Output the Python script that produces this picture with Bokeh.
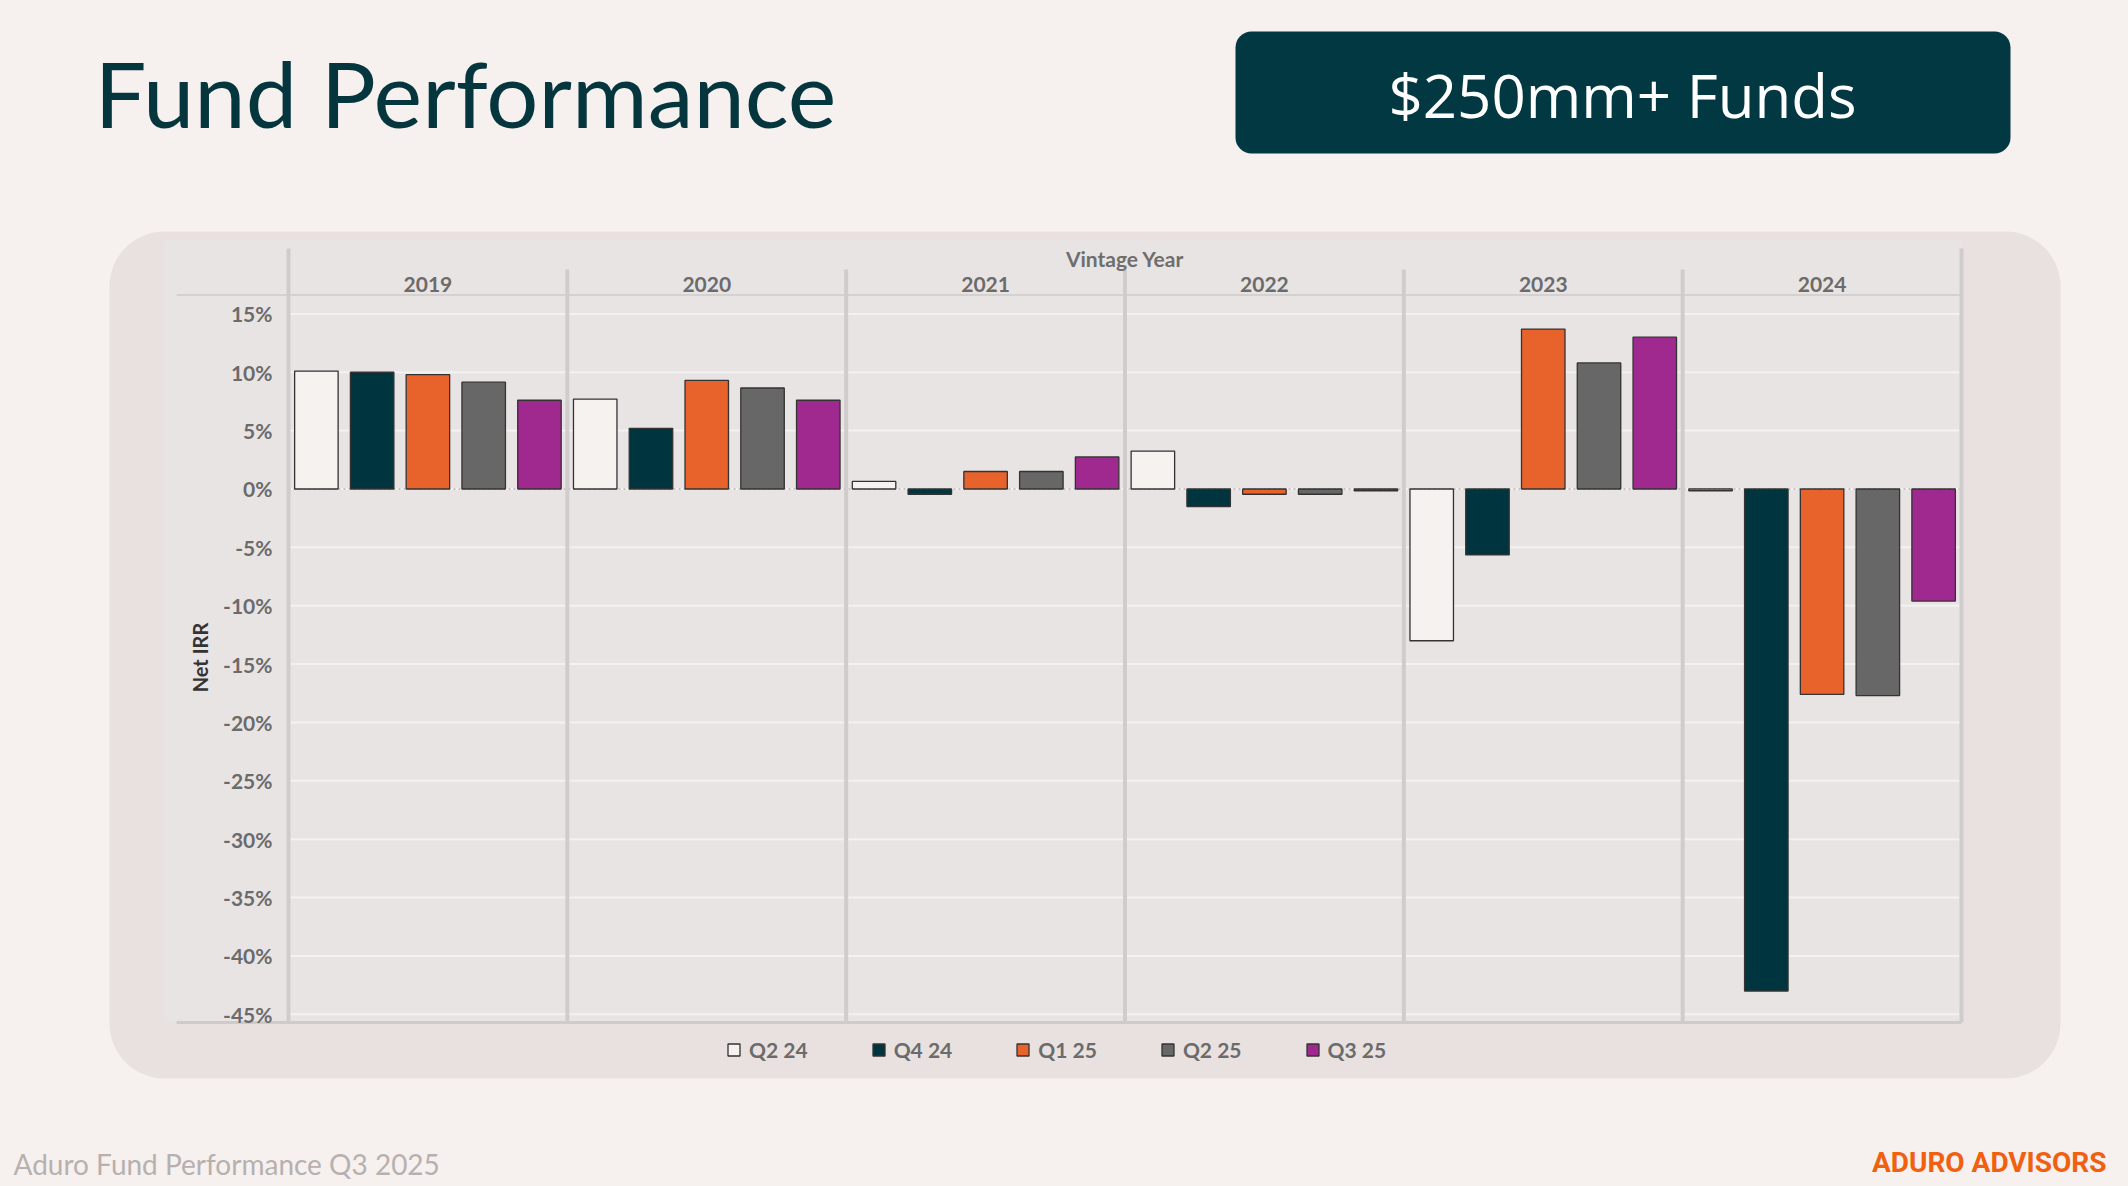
import math
from bokeh.plotting import figure
from bokeh.models import (Range1d, FixedTicker, PrintfTickFormatter,
                          BoxAnnotation, Label)
from bokeh.core.properties import value
from bokeh.embed import file_html
from bokeh.resources import INLINE

# ---------------- data ----------------
years = ["2019", "2020", "2021", "2022", "2023", "2024"]
quarters = ["Q2 24", "Q4 24", "Q1 25", "Q2 25", "Q3 25"]
q2_24 = [10.1, 7.7, 0.65, 3.25, -13.0, -0.15]
q4_24 = [10.0, 5.2, -0.45, -1.5, -5.65, -43.0]
q1_25 = [9.8, 9.3, 1.5, -0.45, 13.7, -17.6]
q2_25 = [9.15, 8.65, 1.5, -0.45, 10.8, -17.7]
q3_25 = [7.6, 7.6, 2.75, -0.15, 13.0, -9.6]
series = [q2_24, q4_24, q1_25, q2_25, q3_25]
y_ticks = [-45, -40, -35, -30, -25, -20, -15, -10, -5, 0, 5, 10, 15]
colors = ["#f5f2f0", "#00353f", "#e8632b", "#676767", "#a0298f"]

# ---------------- geometry (page pixels) ----------------
W, H = 2124, 1182
OFF = 0
FL, FR, FT, FB = 288, 1961, 248, 1022      # chart plot area
Y_TOP, Y_BOT = 20.6, -45.7                 # value range of that area
PAGE = "#f6f0ef"
PANEL = "#e8e1e0"
FRAME = "#e9e4e4"
GRID = "#f4f1f1"
SEP = "#cfcccc"

n_q = len(quarters)
n_y = len(years)
n_slots = n_q * n_y
slot = (FR - FL) / n_slots
py = (FB - FT) / (Y_TOP - Y_BOT)


def xdata(X):
    return (X - FL) / slot


def ydata(Y):
    return Y_TOP - (Y - FT) / py


def cx(X):
    return X - OFF


def cy(Y):
    return Y - OFF


def cbox(X0, X1, Y0, Y1, color, level="image", radius=0):
    return BoxAnnotation(left=cx(X0), right=cx(X1), top=cy(Y0), bottom=cy(Y1),
                         left_units="canvas", right_units="canvas",
                         top_units="canvas", bottom_units="canvas",
                         fill_color=color, fill_alpha=1, line_color=None,
                         border_radius=radius, level=level)


def clabel(X, Y, text, font, size, color, align="left", style="normal",
           angle=0.0):
    return Label(x=cx(X), y=cy(Y), x_units="canvas", y_units="canvas",
                 text=text, text_font=font, text_font_size=size,
                 text_font_style=style, text_color=color, text_align=align,
                 text_baseline="middle", angle=angle)


p = figure(width=W, height=H, output_backend="svg", toolbar_location=None,
           x_range=Range1d(xdata(OFF), xdata(OFF + W)),
           y_range=Range1d(ydata(OFF + H), ydata(OFF)),
           x_axis_location=None, y_axis_location="left",
           min_border=0)
p.min_border_left = 0
p.min_border_right = 0
p.min_border_top = 0
p.min_border_bottom = 0
p.outline_line_color = None
p.background_fill_color = PAGE
p.border_fill_color = PAGE
p.xgrid.visible = False
p.ygrid.visible = False

# rounded panel and plot-area tone
p.add_layout(cbox(109, 2060, 231, 1078, PANEL, radius=55))
p.add_layout(cbox(163, FR, 240, FB, FRAME))
# header badge
p.add_layout(cbox(1235, 2010, 31, 153, "#023841", radius=16))
# header / bottom rules
p.add_layout(cbox(176, FR, 293.5, 295.5, "#d5d1d1"))
p.add_layout(cbox(176, FR, 1020.5, 1023.5, "#cfcbcb"))

# horizontal grid lines at the ticks
p.segment(x0=0, x1=n_slots, y0=y_ticks, y1=y_ticks, line_color=GRID, line_width=2)
# dotted zero line
p.segment(x0=[0], x1=[n_slots], y0=[0], y1=[0], line_color="#c9c4c4",
          line_width=2, line_dash="2 3")

# facet separators
outer = [0, n_slots]
p.segment(x0=outer, x1=outer, y0=Y_BOT, y1=Y_TOP, line_color=SEP, line_width=4)
inner = [n_q * k for k in range(1, n_y)]
p.segment(x0=inner, x1=inner, y0=Y_BOT, y1=ydata(269), line_color=SEP, line_width=4)

# y axis, pinned at the left edge of the plot area
p.yaxis.fixed_location = 0
p.yaxis.ticker = FixedTicker(ticks=y_ticks)
p.yaxis.formatter = PrintfTickFormatter(format="%d%%")
p.yaxis.major_label_text_font = "Lato"
p.yaxis.major_label_text_font_style = "bold"
p.yaxis.major_label_text_font_size = "21px"
p.yaxis.major_label_text_color = "#6b6b6b"
p.yaxis.axis_line_color = None
p.yaxis.major_tick_line_color = None
p.yaxis.minor_tick_line_color = None
p.yaxis.major_label_standoff = 10

# bars
for j, (q, vals, c) in enumerate(zip(quarters, series, colors)):
    xs = [i * n_q + j + 0.5 for i in range(n_y)]
    p.vbar(x=xs, top=vals, bottom=0, width=0.78, fill_color=c,
           line_color="#333333", line_width=1.3, legend_label=q)

# facet header
p.text(x=[i * n_q + n_q / 2 for i in range(n_y)], y=ydata(284), text=years,
       text_font=value("Lato"), text_font_style="bold", text_font_size="21px",
       text_color="#6b6b6b", text_align="center", text_baseline="middle")
p.add_layout(Label(x=n_slots / 2, y=ydata(258), text="Vintage Year",
                   text_font="Lato", text_font_style="bold", text_font_size="21px",
                   text_color="#6e6e6e", text_align="center", text_baseline="middle"))

# axis title
p.add_layout(clabel(199.5, 657, "Net IRR", "Lato", "20px", "#333333",
                    align="center", style="bold", angle=math.pi / 2))

# titles / footer
p.add_layout(clabel(94, 92, "Fund Performance", "Lato", "92px", "#05363e"))
p.add_layout(clabel(1622, 94, "$250mm+ Funds", "Open Sans", "60px", "#ffffff",
                    align="center"))
p.add_layout(clabel(13, 1163, "Aduro Fund Performance Q3 2025", "Lato", "28px",
                    "#b7b0af"))
p.add_layout(clabel(2106, 1162, "ADURO ADVISORS", "Roboto", "28px", "#f0600f",
                    align="right", style="bold"))

# legend
leg = p.legend[0]
leg.orientation = "horizontal"
leg.location = (cx(726), OFF + H - 1062)
leg.padding = 0
leg.margin = 0
leg.spacing = 63
leg.label_standoff = 8
leg.glyph_width = 15
leg.glyph_height = 15
leg.label_text_font = "Lato"
leg.label_text_font_style = "bold"
leg.label_text_font_size = "21px"
leg.label_text_color = "#6b6b6b"
leg.background_fill_alpha = 0
leg.border_line_color = None

html = file_html(p, INLINE, title="Fund Performance")
html = html.replace("<head>", "<head><style>body{background:%s;}</style>" % PAGE, 1)
open("out.html", "w").write(html)
